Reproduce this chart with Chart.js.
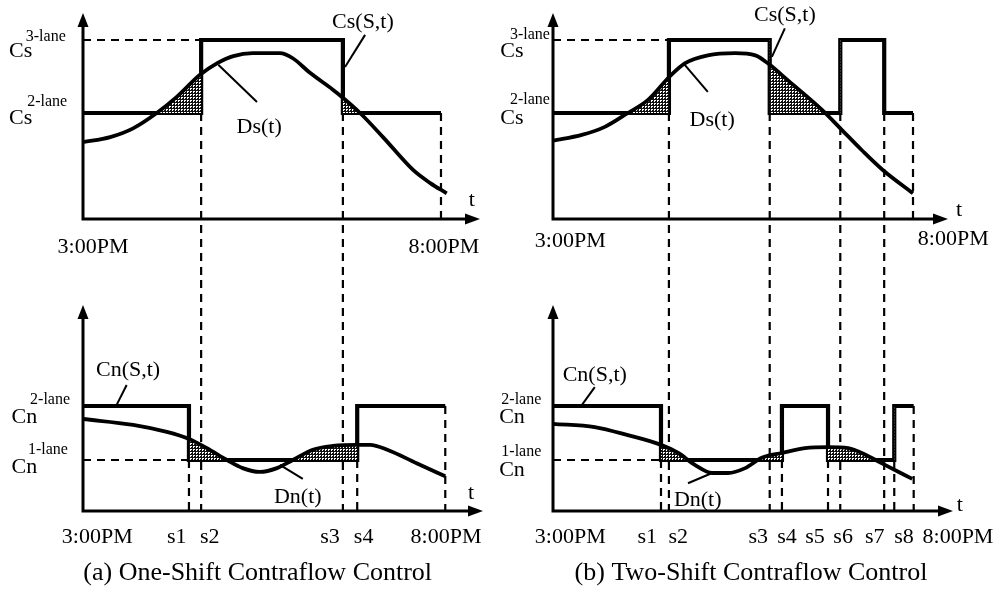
<!DOCTYPE html>
<html>
<head>
<meta charset="utf-8">
<script src="https://cdn.jsdelivr.net/npm/chart.js@4.4.1/dist/chart.umd.min.js"></script>
<style>
  body { margin: 0; background: #fff; width: 995px; height: 591px; overflow: hidden; position: relative; }
  canvas { position: absolute; }
</style>
</head>
<body>
<canvas id="topA" width="497" height="280" style="left:0px;top:0px"></canvas>
<canvas id="botA" width="497" height="311" style="left:0px;top:280px"></canvas>
<canvas id="topB" width="498" height="280" style="left:497px;top:0px"></canvas>
<canvas id="botB" width="498" height="311" style="left:497px;top:280px"></canvas>
<script>
// time axis: hours after 3:00PM (0 = 3:00PM, 5 = 8:00PM)
// capacity axis: lane capacity levels (Cs 2-lane = 2, Cs 3-lane = 3, Cn 1-lane = 1, Cn 2-lane = 2)

// (a) one-shift control
const shiftsA = [1.48, 1.65, 3.63, 3.83];
const dsTimesA = [0, 0.38, 0.70, 1.03, 1.31, 1.63, 1.87, 2.10, 2.37, 2.75, 2.93, 3.17, 3.49, 3.63, 3.87, 4.19, 4.61, 4.85, 5.08];
const dsValuesA = [1.60, 1.67, 1.79, 2.00, 2.22, 2.52, 2.68, 2.78, 2.82, 2.82, 2.75, 2.55, 2.32, 2.21, 2.00, 1.67, 1.22, 1.04, 0.90];
const csTimesA = [0, 1.65, 3.63, 5.0];
const csValuesA = [2, 3, 2, 2];
const dnTimesA = [0, 0.70, 1.17, 1.48, 1.73, 2.01, 2.23, 2.47, 2.71, 2.93, 3.21, 3.49, 3.83, 4.01, 4.25, 4.66, 5.06];
const dnValuesA = [1.76, 1.65, 1.52, 1.39, 1.22, 1.00, 0.85, 0.78, 0.85, 1.00, 1.19, 1.26, 1.28, 1.28, 1.19, 0.94, 0.70];
const cnTimesA = [0, 1.48, 3.83, 5.06];
const cnValuesA = [2, 1, 2, 2];
const tickLabelsA = ['3:00PM', 's1', 's2', 's3', 's4', '8:00PM'];

// (b) two-shift control
const shiftsB = [1.50, 1.61, 3.01, 3.18, 3.82, 3.99, 4.60, 4.74];
const dsTimesB = [0, 0.40, 0.72, 1.04, 1.32, 1.61, 1.83, 2.15, 2.53, 2.81, 3.01, 3.26, 3.74, 4.01, 4.29, 4.58, 5.0];
const dsValuesB = [1.62, 1.70, 1.81, 2.00, 2.18, 2.49, 2.68, 2.79, 2.82, 2.79, 2.66, 2.45, 2.04, 1.77, 1.49, 1.22, 0.90];
const csTimesB = [0, 1.61, 3.01, 3.99, 4.60, 5.0];
const csValuesB = [2, 3, 2, 3, 2, 2];
const dnTimesB = [0, 0.58, 1.04, 1.50, 1.74, 1.97, 2.21, 2.43, 2.67, 2.90, 3.18, 3.50, 3.82, 4.10, 4.38, 4.61, 4.99];
const dnValuesB = [1.67, 1.61, 1.46, 1.28, 1.13, 0.91, 0.76, 0.76, 0.85, 1.04, 1.13, 1.22, 1.24, 1.22, 1.07, 0.91, 0.65];
const cnTimesB = [0, 1.50, 3.18, 3.82, 4.74, 5.01];
const cnValuesB = [2, 1, 2, 1, 2, 2];
const tickLabelsB = ['3:00PM', 's1', 's2', 's3', 's4', 's5', 's6', 's7', 's8', '8:00PM'];

const FONT = "'Liberation Serif', 'Times New Roman', serif";

// dotted shading for demand above capacity
function stipple() {
    const c = document.createElement('canvas');
    c.width = 3; c.height = 3;
    const g = c.getContext('2d');
    g.fillStyle = '#111';
    g.fillRect(0, 0, 3, 3);
    g.fillStyle = '#fff';
    g.fillRect(1, 1, 2, 1);
    g.fillRect(1, 2, 1, 1);
    return g.createPattern(c, 'repeat');
}
const shade = stipple();

const deco = {};

const diagram = {
    id: 'diagram',
    beforeDatasetsDraw(chart) {
        const d = deco[chart.canvas.id];
        const {ctx, chartArea: ca, scales: {x, y}} = chart;
        ctx.save();
        ctx.strokeStyle = '#000';
        ctx.lineWidth = 2.2;
        ctx.setLineDash([8, 6]);
        d.vGuides.forEach(g => {
            const px = x.getPixelForValue(g.x);
            const y0 = g.from === 'edge' ? 0 : y.getPixelForValue(g.from);
            const y1 = g.to === 'edge' ? chart.height : ca.bottom;
            ctx.beginPath(); ctx.moveTo(px, y0); ctx.lineTo(px, y1); ctx.stroke();
        });
        d.hGuides.forEach(g => {
            const py = y.getPixelForValue(g.y);
            ctx.beginPath();
            ctx.moveTo(x.getPixelForValue(g.x0), py);
            ctx.lineTo(x.getPixelForValue(g.x1), py);
            ctx.stroke();
        });
        ctx.restore();
    },
    afterDatasetsDraw(chart) {
        const d = deco[chart.canvas.id];
        const {ctx, chartArea: ca, scales: {x, y}} = chart;
        ctx.save();
        // axes with arrow heads
        ctx.strokeStyle = '#000';
        ctx.fillStyle = '#000';
        ctx.lineWidth = 3;
        ctx.beginPath();
        ctx.moveTo(ca.left, ca.top + 10);
        ctx.lineTo(ca.left, ca.bottom);
        ctx.lineTo(ca.right - 10, ca.bottom);
        ctx.stroke();
        ctx.beginPath();
        ctx.moveTo(ca.left, ca.top);
        ctx.lineTo(ca.left - 5.5, ca.top + 14);
        ctx.lineTo(ca.left + 5.5, ca.top + 14);
        ctx.closePath();
        ctx.fill();
        ctx.beginPath();
        ctx.moveTo(ca.right, ca.bottom);
        ctx.lineTo(ca.right - 15, ca.bottom - 5.5);
        ctx.lineTo(ca.right - 15, ca.bottom + 5.5);
        ctx.closePath();
        ctx.fill();
        // leader lines
        ctx.lineWidth = 2;
        d.leaders.forEach(l => {
            ctx.beginPath();
            ctx.moveTo(x.getPixelForValue(l[0]), y.getPixelForValue(l[1]));
            ctx.lineTo(x.getPixelForValue(l[2]), y.getPixelForValue(l[3]));
            ctx.stroke();
        });
        // text
        ctx.textAlign = 'center';
        ctx.textBaseline = 'middle';
        d.labels.forEach(t => {
            ctx.font = (t.size || 22) + 'px ' + FONT;
            ctx.fillText(t.t, x.getPixelForValue(t.x), y.getPixelForValue(t.y));
        });
        ctx.restore();
    }
};

function pts(xs, ys) {
    return xs.map((v, i) => ({x: v, y: ys[i]}));
}

function panel(id, demand, capacity, scale, pad) {
    return new Chart(document.getElementById(id), {
        type: 'line',
        data: {
            datasets: [{
                data: demand,
                borderColor: '#000',
                borderWidth: 3.8,
                pointRadius: 0,
                cubicInterpolationMode: 'monotone',
                fill: {target: 1, above: shade, below: 'rgba(0,0,0,0)'}
            }, {
                data: capacity,
                borderColor: '#000',
                borderWidth: 4.2,
                borderJoinStyle: 'miter',
                pointRadius: 0,
                stepped: true,
                fill: false
            }]
        },
        options: {
            responsive: false,
            animation: false,
            events: [],
            layout: {padding: pad},
            scales: {
                x: {type: 'linear', min: 0, max: scale.xMax, display: false},
                y: {type: 'linear', min: scale.yMin, max: scale.yMax, display: false}
            },
            plugins: {legend: {display: false}, tooltip: {enabled: false}}
        },
        plugins: [diagram]
    });
}

const tickY = -0.43;

deco.topA = {
    vGuides: [{x: shiftsA[1], from: 2, to: 'edge'}, {x: shiftsA[2], from: 2, to: 'edge'}, {x: 5.0, from: 2, to: 'axis'}],
    hGuides: [{y: 3, x0: 0, x1: shiftsA[1]}],
    leaders: [[3.94, 3.07, 3.66, 2.63], [1.89, 2.66, 2.43, 2.15]],
    labels: [
        {t: 'Cs(S,t)', x: 3.91, y: 3.25}, {t: 'Ds(t)', x: 2.46, y: 1.81}, {t: 't', x: 5.43, y: 0.81},
        {t: '3:00PM', x: 0.14, y: 0.16}, {t: '8:00PM', x: 5.04, y: 0.16},
        {t: 'Cs', x: -0.87, y: 2.84}, {t: '3-lane', x: -0.52, y: 3.04, size: 16},
        {t: 'Cs', x: -0.87, y: 1.93}, {t: '2-lane', x: -0.50, y: 2.15, size: 16}
    ]
};
const tickPosA = [0.20, 1.31, 1.77, 3.45, 3.92, 5.07];
deco.botA = {
    vGuides: [{x: shiftsA[1], from: 'edge', to: 'axis'}, {x: shiftsA[2], from: 'edge', to: 'axis'},
              {x: shiftsA[0], from: 1, to: 'axis'}, {x: shiftsA[3], from: 1, to: 'axis'}, {x: 5.06, from: 2, to: 'axis'}],
    hGuides: [{y: 1, x0: 0, x1: shiftsA[0]}],
    leaders: [[0.61, 2.39, 0.47, 2.02], [3.07, 0.65, 2.75, 0.91]],
    labels: [
        {t: 'Cn(S,t)', x: 0.63, y: 2.67}, {t: 'Dn(t)', x: 3.0, y: 0.31}, {t: 't', x: 5.42, y: 0.39},
        {t: 'Cn', x: -0.82, y: 1.80}, {t: '2-lane', x: -0.46, y: 2.11, size: 16},
        {t: 'Cn', x: -0.82, y: 0.87}, {t: '1-lane', x: -0.49, y: 1.19, size: 16},
        {t: '(a) One-Shift Contraflow Control', x: 2.44, y: -1.09, size: 26}
    ].concat(tickLabelsA.map((t, i) => ({t, x: tickPosA[i], y: tickY})))
};

deco.topB = {
    vGuides: [{x: shiftsB[1], from: 2, to: 'edge'}, {x: shiftsB[2], from: 2, to: 'edge'},
              {x: shiftsB[5], from: 2, to: 'edge'}, {x: shiftsB[6], from: 2, to: 'edge'}, {x: 5.0, from: 2, to: 'axis'}],
    hGuides: [{y: 3, x0: 0, x1: shiftsB[1]}],
    leaders: [[3.22, 3.16, 3.04, 2.77], [1.83, 2.66, 2.15, 2.29]],
    labels: [
        {t: 'Cs(S,t)', x: 3.22, y: 3.34}, {t: 'Ds(t)', x: 2.21, y: 1.90}, {t: 't', x: 5.64, y: 0.67},
        {t: '3:00PM', x: 0.24, y: 0.25}, {t: '8:00PM', x: 5.56, y: 0.27},
        {t: 'Cs', x: -0.57, y: 2.84}, {t: '3-lane', x: -0.32, y: 3.07, size: 16},
        {t: 'Cs', x: -0.57, y: 1.93}, {t: '2-lane', x: -0.32, y: 2.18, size: 16}
    ]
};
const tickPosB = [0.24, 1.31, 1.74, 2.85, 3.25, 3.64, 4.03, 4.47, 4.875, 5.625];
deco.botB = {
    vGuides: [1, 2, 5, 6].map(i => ({x: shiftsB[i], from: 'edge', to: 'axis'}))
        .concat([0, 3, 4, 7].map(i => ({x: shiftsB[i], from: 1, to: 'axis'})))
        .concat([{x: 5.01, from: 2, to: 'axis'}]),
    hGuides: [{y: 1, x0: 0, x1: shiftsB[0]}],
    leaders: [[0.58, 2.35, 0.38, 1.98], [1.875, 0.57, 2.21, 0.76]],
    labels: [
        {t: 'Cn(S,t)', x: 0.58, y: 2.57}, {t: 'Dn(t)', x: 2.01, y: 0.26}, {t: 't', x: 5.65, y: 0.17},
        {t: 'Cn', x: -0.57, y: 1.80}, {t: '2-lane', x: -0.44, y: 2.11, size: 16},
        {t: 'Cn', x: -0.57, y: 0.81}, {t: '1-lane', x: -0.44, y: 1.15, size: 16},
        {t: '(b) Two-Shift Contraflow Control', x: 2.75, y: -1.09, size: 26}
    ].concat(tickLabelsB.map((t, i) => ({t, x: tickPosB[i], y: tickY})))
};

// left column: origin at 83px, 71.6 px per hour; right column: origin at 553px, 72 px per hour
const topScale = {yMin: 0.548, yMax: 3.37};
const botScale = {yMin: 0.056, yMax: 3.87};

panel('topA', pts(dsTimesA, dsValuesA), pts(csTimesA, csValuesA),
      {xMax: 5.545, ...topScale}, {left: 83, right: 497 - 480, top: 13, bottom: 61});
panel('botA', pts(dnTimesA, dnValuesA), pts(cnTimesA, cnValuesA),
      {xMax: 5.587, ...botScale}, {left: 83, right: 497 - 483, top: 25, bottom: 80});
panel('topB', pts(dsTimesB, dsValuesB), pts(csTimesB, csValuesB),
      {xMax: 5.486, ...topScale}, {left: 56, right: 498 - 451, top: 13, bottom: 61});
panel('botB', pts(dnTimesB, dnValuesB), pts(cnTimesB, cnValuesB),
      {xMax: 5.556, ...botScale}, {left: 56, right: 498 - 456, top: 25, bottom: 80});
</script>
</body>
</html>
